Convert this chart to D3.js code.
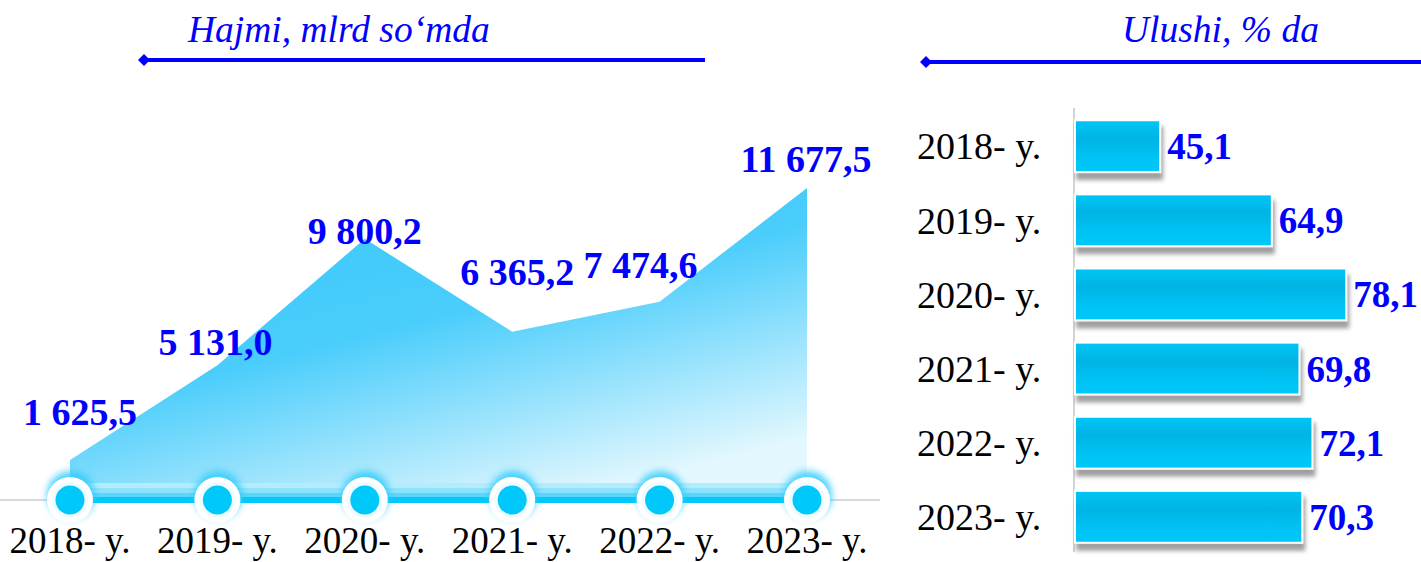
<!DOCTYPE html>
<html>
<head>
<meta charset="utf-8">
<script src="https://cdn.jsdelivr.net/npm/d3@7"></script>
<style>
  body { margin: 0; background: #fff; }
  svg { display: block; font-family: "Liberation Serif", "Times New Roman", serif; }
</style>
</head>
<body>
<svg width="1421" height="562"></svg>
<script>
const years = ["2018- y.", "2019- y.", "2020- y.", "2021- y.", "2022- y.", "2023- y."];
const volume = [1625.5, 5131.0, 9800.2, 6365.2, 7474.6, 11677.5];
const volumeLabels = ["1 625,5", "5 131,0", "9 800,2", "6 365,2", "7 474,6", "11 677,5"];
const share = [45.1, 64.9, 78.1, 69.8, 72.1, 70.3];
const shareLabels = ["45,1", "64,9", "78,1", "69,8", "72,1", "70,3"];

// label placement tweaks (layout only)
const labelShift = [[10, -35], [-2, -10], [0, 5], [5, -47], [-19, -24], [-1, -16]];

const svg = d3.select("svg");
const blue = "#0000ff";
const cyan = "#00c8fa";

const defs = svg.append("defs");
const areaGrad = defs.append("linearGradient").attr("id", "areaGrad")
  .attr("x1", 0.25).attr("y1", 0.2).attr("x2", 0.75).attr("y2", 1);
areaGrad.append("stop").attr("offset", 0).attr("stop-color", "#3fcafb");
areaGrad.append("stop").attr("offset", 0.35).attr("stop-color", "#4acdfb");
areaGrad.append("stop").attr("offset", 1).attr("stop-color", "#e2f7fe");

const barGrad = defs.append("linearGradient").attr("id", "barGrad")
  .attr("x1", 0).attr("y1", 0).attr("x2", 0).attr("y2", 1);
barGrad.append("stop").attr("offset", 0).attr("stop-color", "#00c6f6");
barGrad.append("stop").attr("offset", 0.35).attr("stop-color", "#00b4e4");
barGrad.append("stop").attr("offset", 0.7).attr("stop-color", "#00c2f4");
barGrad.append("stop").attr("offset", 1).attr("stop-color", "#00c8fa");

const shadow = defs.append("filter").attr("id", "shadow")
  .attr("x", "-10%").attr("y", "-10%").attr("width", "130%").attr("height", "140%");
shadow.append("feDropShadow").attr("dx", 2).attr("dy", 7).attr("stdDeviation", 2)
  .attr("flood-color", "#777").attr("flood-opacity", 0.7);

const glow = defs.append("filter").attr("id", "glow")
  .attr("x", "-50%").attr("y", "-50%").attr("width", "200%").attr("height", "200%");
glow.append("feGaussianBlur").attr("stdDeviation", 3.5);

// ---- headers ----
const headers = [
  { text: "Hajmi, mlrd so‘mda", x: 188, y: 42, x1: 140, x2: 705, ly: 60 },
  { text: "Ulushi, % da", x: 1122, y: 42, x1: 922, x2: 1421, ly: 62 }
];
headers.forEach(h => {
  svg.append("text").attr("x", h.x).attr("y", h.y)
    .attr("font-size", 37.5).attr("font-style", "italic").attr("fill", blue).text(h.text);
  svg.append("line").attr("x1", h.x1 + 4).attr("x2", h.x2).attr("y1", h.ly).attr("y2", h.ly)
    .attr("stroke", blue).attr("stroke-width", 4);
  svg.append("path").attr("d", `M${h.x1 - 2},${h.ly} l6,-6 l6,6 l-6,6 z`).attr("fill", blue);
});

// ---- left: area chart ----
const baseY = 484;
const x = d3.scalePoint().domain(years).range([70, 807]);
const y = d3.scaleLinear().domain([0, 11677.5]).range([504, 188]);

svg.append("line").attr("x1", 0).attr("x2", 880).attr("y1", 500).attr("y2", 500)
  .attr("stroke", "#d9d9d9").attr("stroke-width", 2);

const area = d3.area()
  .x((d, i) => x(years[i]))
  .y0(baseY)
  .y1(d => y(d));
svg.append("path").datum(volume).attr("d", area).attr("fill", "url(#areaGrad)");

// timeline band
const bandX = x(years[0]), bandW = x(years[5]) - x(years[0]);
svg.append("rect").attr("x", bandX).attr("width", bandW).attr("y", 483).attr("height", 5).attr("fill", "#b4ecfd");
svg.append("rect").attr("x", bandX).attr("width", bandW).attr("y", 488).attr("height", 5).attr("fill", "#8ee3fc");
svg.append("rect").attr("x", bandX).attr("width", bandW).attr("y", 493).attr("height", 4).attr("fill", "#5ad6fb");
svg.append("rect").attr("x", bandX).attr("width", bandW).attr("y", 497).attr("height", 6).attr("fill", cyan);

const nodes = svg.selectAll("g.node").data(years).enter().append("g")
  .attr("class", "node").attr("transform", d => `translate(${x(d)},500)`);
nodes.append("circle").attr("r", 24).attr("cx", 1).attr("cy", -5).attr("fill", "#30ccfb")
  .attr("opacity", 0.85).attr("filter", "url(#glow)");
nodes.append("circle").attr("r", 23).attr("fill", "#ffffff");
nodes.append("circle").attr("r", 18).attr("fill", "#eefbff");
nodes.append("circle").attr("r", 14.5).attr("fill", cyan);

svg.selectAll("text.vol").data(volume).enter().append("text")
  .attr("class", "vol")
  .attr("x", (d, i) => x(years[i]) + labelShift[i][0])
  .attr("y", (d, i) => y(d) + labelShift[i][1])
  .attr("text-anchor", "middle").attr("font-size", 38).attr("font-weight", "bold")
  .attr("fill", blue).text((d, i) => volumeLabels[i]);

svg.selectAll("text.xl").data(years).enter().append("text")
  .attr("class", "xl").attr("x", d => x(d)).attr("y", 553)
  .attr("text-anchor", "middle").attr("font-size", 37).attr("fill", "#000").text(d => d);

// ---- right: bar chart ----
const by = d3.scaleBand().domain(years).range([98, 565]).padding(0.3);
const bx = d3.scaleLinear().domain([30, 80]).range([1075, 1357]);

svg.append("line").attr("x1", 1074).attr("x2", 1074).attr("y1", 108).attr("y2", 552)
  .attr("stroke", "#d4d4d4").attr("stroke-width", 2);

svg.selectAll("rect.bar").data(share).enter().append("rect")
  .attr("class", "bar")
  .attr("x", bx(30))
  .attr("y", (d, i) => by(years[i]))
  .attr("width", d => bx(d) - bx(30))
  .attr("height", by.bandwidth())
  .attr("fill", "url(#barGrad)")
  .attr("stroke", "#fff").attr("stroke-width", 2)
  .attr("filter", "url(#shadow)");

svg.selectAll("text.sh").data(share).enter().append("text")
  .attr("class", "sh")
  .attr("x", d => bx(d) + 7)
  .attr("y", (d, i) => by(years[i]) + by.bandwidth() / 2)
  .attr("dy", "0.35em").attr("font-size", 37).attr("font-weight", "bold")
  .attr("fill", blue).text((d, i) => shareLabels[i]);

svg.selectAll("text.yl").data(years).enter().append("text")
  .attr("class", "yl").attr("x", 917)
  .attr("y", d => by(d) + by.bandwidth() / 2)
  .attr("dy", "0.35em").attr("font-size", 38).attr("fill", "#000").text(d => d);
</script>
</body>
</html>
